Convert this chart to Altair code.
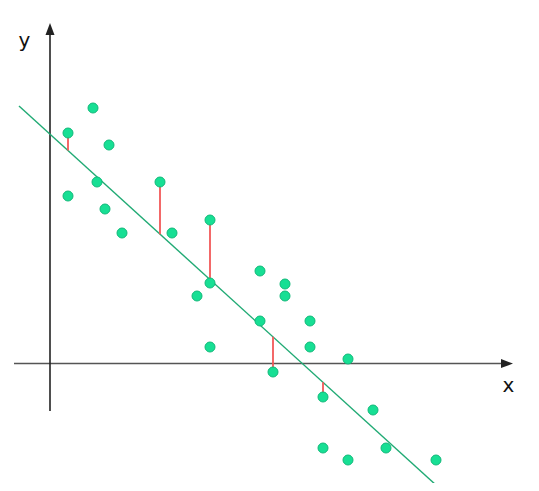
import altair as alt
import pandas as pd

# scatter points (data units)
pt_x = [0.76, 1.76, 2.40, 0.76, 1.92, 2.24, 2.92, 4.44, 4.92, 6.44, 6.44, 5.92, 6.44,
        8.44, 9.44, 9.44, 8.44, 10.44, 10.44, 11.96, 8.96, 10.96, 12.96, 10.96, 11.96, 13.48, 15.48]
pt_y = [9.20, 10.20, 8.72, 6.68, 7.24, 6.16, 5.20, 7.24, 5.20, 5.72, 3.20, 2.68, 0.64,
        3.68, 3.16, 2.68, 1.68, 1.68, 0.64, 0.16, -0.36, -1.36, -1.88, -3.40, -3.88, -3.40, -3.88]

# regression line
intercept = 9.19
slope = -0.909
line_x = [-1.2, 15.48]

# points whose residuals are shown
res_x = [0.76, 4.44, 6.44, 8.96, 10.96]
res_y = [9.20, 7.24, 5.72, -0.36, -1.36]

# axes extents
x_axis = [-1.40, 18.30]
y_axis = [-1.92, 13.30]

XD = [-1.64, 18.96]
YD = [-4.8, 14.2]
xs = alt.Scale(domain=XD, nice=False, zero=False)
ys = alt.Scale(domain=YD, nice=False, zero=False)

pts = pd.DataFrame({"x": pt_x, "y": pt_y})
line_df = pd.DataFrame({"x": line_x, "y": [intercept + slope * v for v in line_x]})
res_df = pd.DataFrame({"x": res_x, "y": res_y, "y2": [intercept + slope * v for v in res_x]})
xax = pd.DataFrame({"x": [x_axis[0]], "x2": [x_axis[1]], "y": [-0.02]})
yax = pd.DataFrame({"x": [0.04], "y": [y_axis[0]], "y2": [y_axis[1]]})
arrows = pd.DataFrame({"x": [18.32, 0.04], "y": [-0.02, 13.36], "dir": ["r", "u"]})
labels = pd.DataFrame({"x": [18.38, -0.98], "y": [-1.16, 12.64], "t": ["x", "y"]})

X = lambda f="x": alt.X(f"{f}:Q", scale=xs, axis=None)
Y = lambda f="y": alt.Y(f"{f}:Q", scale=ys, axis=None)

x_axis_rule = alt.Chart(xax).mark_rule(color="#555555", strokeWidth=1.6).encode(
    x=X(), x2="x2:Q", y=Y())
y_axis_rule = alt.Chart(yax).mark_rule(color="#222222", strokeWidth=1.6).encode(
    x=X(), y=Y(), y2="y2:Q")
arrow_r = alt.Chart(arrows[arrows.dir == "r"]).mark_point(
    shape="M1,0L-1,0.75L-1,-0.75Z", filled=True, color="#222222", size=144, opacity=1
).encode(x=X(), y=Y())
arrow_u = alt.Chart(arrows[arrows.dir == "u"]).mark_point(
    shape="M0,-1L0.75,1L-0.75,1Z", filled=True, color="#222222", size=144, opacity=1
).encode(x=X(), y=Y())

reg = alt.Chart(line_df).mark_line(color="#20aa74", strokeWidth=1.4, clip=True).encode(
    x=X(), y=Y())
res = alt.Chart(res_df).mark_rule(color="#f25858", strokeWidth=1.8).encode(
    x=X(), y=Y(), y2="y2:Q")
dots = alt.Chart(pts).mark_point(
    shape="circle", filled=True, fill="#17df94", stroke="#12b97a", strokeWidth=1,
    size=100, opacity=1
).encode(x=X(), y=Y())
txt = alt.Chart(labels).mark_text(
    font="DejaVu Sans", fontSize=20, color="#111111", align="center", baseline="alphabetic"
).encode(x=X(), y=Y(), text="t:N")

chart = alt.layer(x_axis_rule, y_axis_rule, arrow_r, arrow_u, reg, res, dots, txt).properties(
    width=515, height=475, padding=0,
    autosize=alt.AutoSizeParams(type="none"),
).configure_view(stroke=None)

chart.save("out.html", embed_options={"renderer": "svg", "actions": False})
